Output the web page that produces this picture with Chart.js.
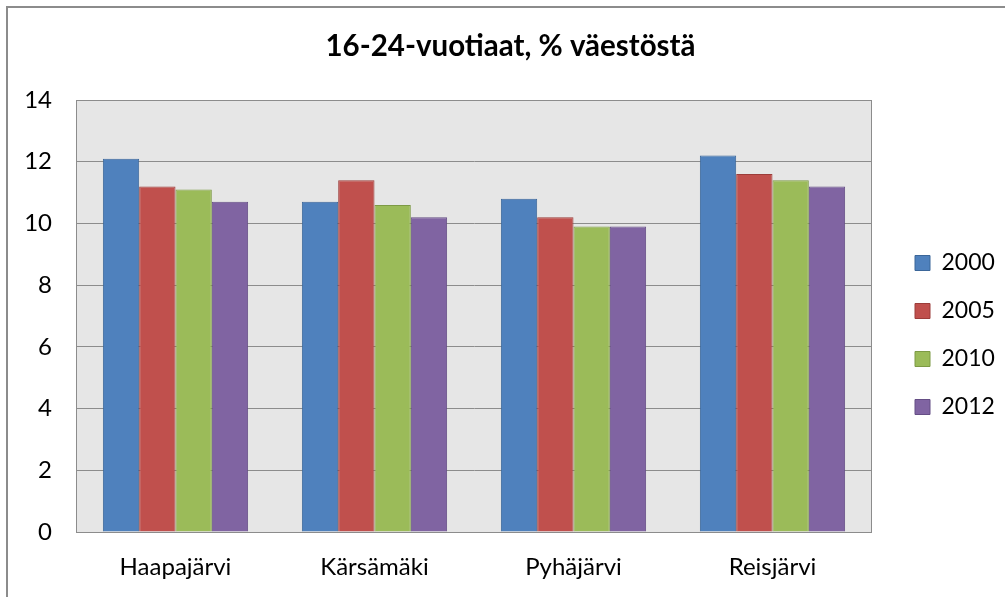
<!DOCTYPE html>
<html lang="fi">
<head>
  <meta charset="UTF-8" />
  <title>16-24-vuotiaat, % väestöstä</title>
  <script src="https://cdn.jsdelivr.net/npm/chart.js"></script>
  <style>
    html, body {
      margin: 0;
      padding: 0;
      background: #fff;
      overflow: hidden;
    }
    .wrap {
      position: relative;
      width: 1005px;
      height: 597px;
    }
    .frame {
      position: absolute;
      left: 6px;
      top: 6px;
      width: 1100px;
      height: 700px;
      border-top: 2px solid #8c8c8c;
      border-left: 2px solid #8c8c8c;
      pointer-events: none;
    }
  </style>
</head>
<body>
  <div class="wrap">
    <canvas id="chart" width="1005" height="597"></canvas>
    <div class="frame"></div>
  </div>

  <script>
    const municipalities = ['Haapajärvi', 'Kärsämäki', 'Pyhäjärvi', 'Reisjärvi'];
    const years = ['2000', '2005', '2010', '2012'];
    const values2000 = [12.1, 10.7, 10.8, 12.2];
    const values2005 = [11.2, 11.4, 10.2, 11.6];
    const values2010 = [11.1, 10.6, 9.9, 11.4];
    const values2012 = [10.7, 10.2, 9.9, 11.2];
    const yTicks = [0, 2, 4, 6, 8, 10, 12, 14];

    const fills = ['#4f81bd', '#c0504d', '#9bbb59', '#8064a2'];
    const edges = ['#3b6699', '#9c3d3a', '#7d9a45', '#654e85'];
    const series = [values2000, values2005, values2010, values2012];

    // grey plot area with a thin border, like the spreadsheet original
    const plotBg = {
      id: 'plotBg',
      beforeDraw(chart) {
        const { ctx, chartArea: a } = chart;
        ctx.save();
        ctx.fillStyle = '#e6e6e6';
        ctx.fillRect(a.left, a.top, a.right - a.left, a.bottom - a.top);
        ctx.strokeStyle = '#8c8c8c';
        ctx.lineWidth = 1;
        ctx.strokeRect(Math.round(a.left) + 0.5, Math.round(a.top) + 0.5,
          Math.round(a.right - a.left) - 1, Math.round(a.bottom - a.top));
        ctx.restore();
      }
    };

    new Chart(document.getElementById('chart'), {
      type: 'bar',
      data: {
        labels: municipalities,
        datasets: years.map((y, i) => ({
          label: y,
          data: series[i],
          backgroundColor: fills[i],
          borderColor: edges[i],
          borderWidth: 1,
          categoryPercentage: 0.73,
          barPercentage: 1
        }))
      },
      options: {
        responsive: false,
        animation: false,
        layout: { padding: { left: 24, right: 8, top: 0, bottom: 0 } },
        plugins: {
          title: {
            display: true,
            text: '16-24-vuotiaat, % väestöstä',
            color: '#000',
            font: { family: 'Lato', size: 29.5, weight: 'bold' },
            padding: { top: 29, bottom: 35.6 }
          },
          legend: {
            position: 'right',
            maxWidth: 107,
            title: {
              display: true,
              text: ' ',
              font: { size: 12 },
              padding: { top: 0, bottom: 58.6 }
            },
            labels: {
              color: '#000',
              font: { family: 'Lato', size: 23 },
              boxWidth: 15,
              boxHeight: 15,
              padding: 25
            }
          },
          tooltip: { enabled: false }
        },
        scales: {
          x: {
            grid: { display: false },
            border: { display: false },
            ticks: {
              color: '#000',
              font: { family: 'Lato', size: 24 },
              padding: 13
            },
            afterFit(s) { s.height = 65; }
          },
          y: {
            min: 0,
            max: 14,
            afterBuildTicks(s) { s.ticks = yTicks.map(v => ({ value: v })); },
            grid: { color: '#8c8c8c', lineWidth: 1, drawTicks: false },
            border: { color: '#8c8c8c' },
            ticks: {
              color: '#000',
              font: { family: 'Lato', size: 24 },
              padding: 24
            },
            afterFit(s) { s.width = 52; }
          },
          spacer: {
            type: 'linear',
            position: 'right',
            grid: { display: false },
            border: { display: false },
            ticks: { display: false },
            afterFit(s) { s.width = 18; }
          }
        }
      },
      plugins: [plotBg]
    });
  </script>
</body>
</html>
